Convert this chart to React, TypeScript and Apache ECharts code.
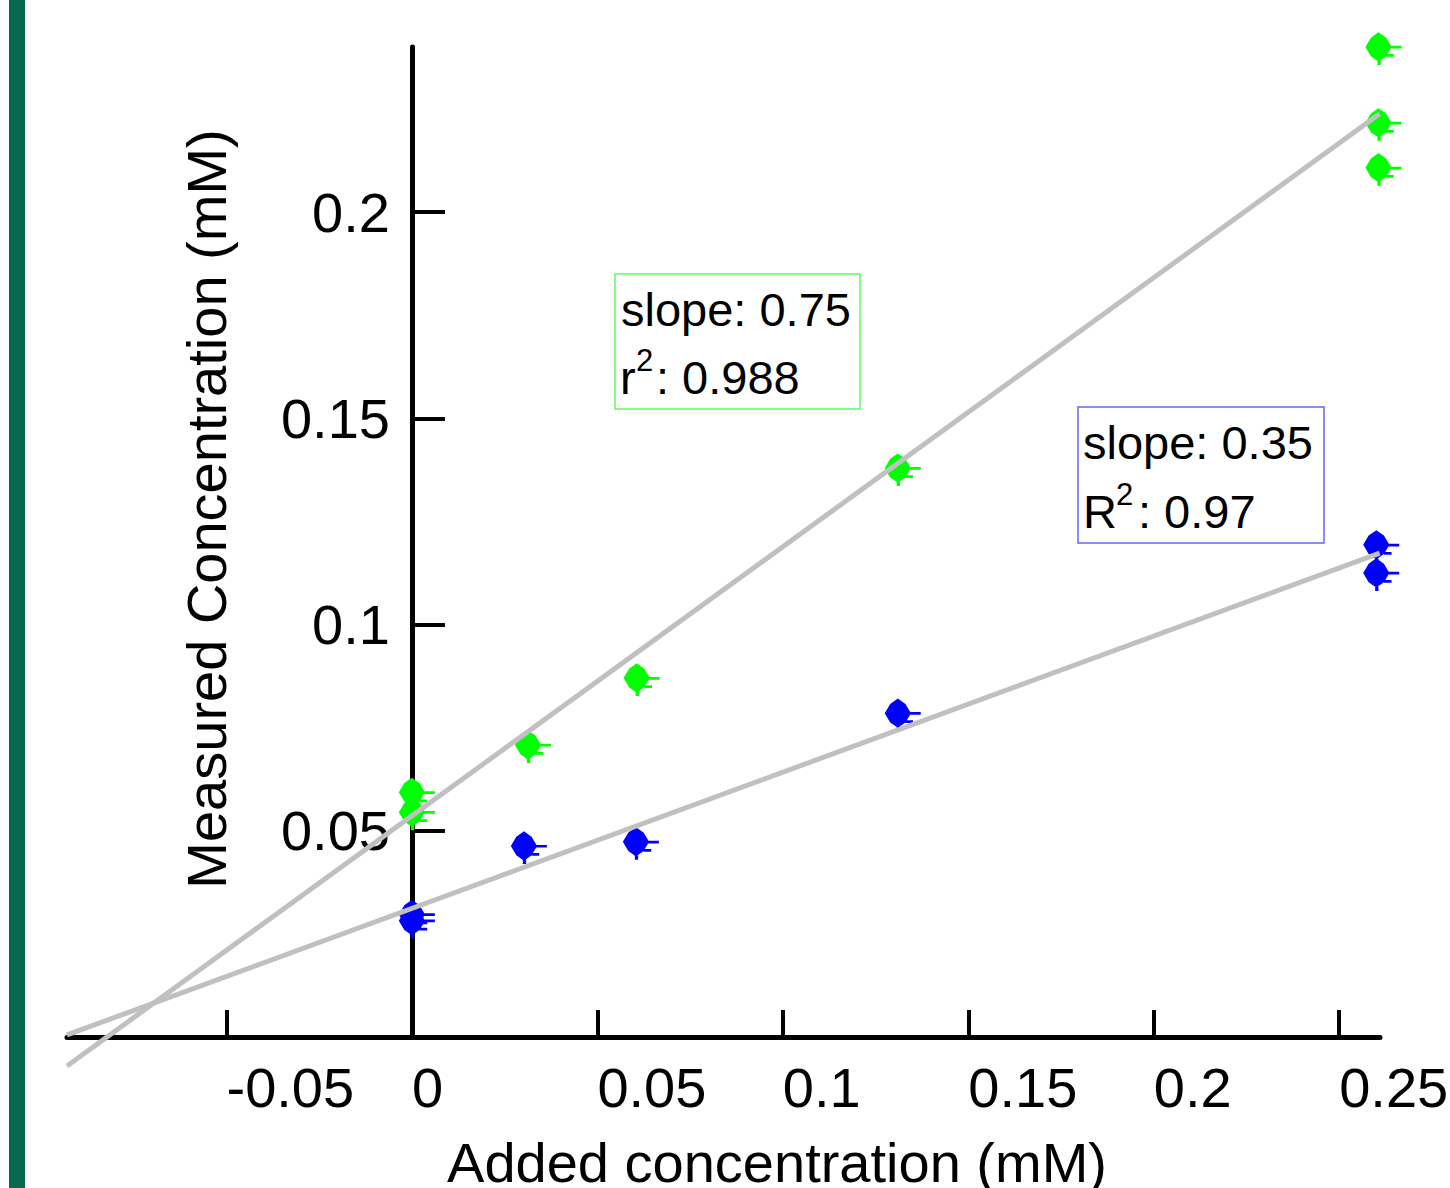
import React, { useEffect, useRef } from "react";
import * as echarts from "echarts";

// ---- data ----
const xTicks = [-0.05, 0, 0.05, 0.1, 0.15, 0.2, 0.25];
const yTicks = [0.05, 0.1, 0.15, 0.2];
const xRange = [-0.093, 0.261];
const yRange = [0, 0.24];

const greenX = [0, 0, 0.0313, 0.0606, 0.131, 0.2606, 0.2606, 0.2606];
const greenY = [0.0593, 0.0545, 0.0708, 0.087, 0.1379, 0.24, 0.2216, 0.2107];
const blueX = [0, 0, 0.0302, 0.0604, 0.131, 0.26, 0.26];
const blueY = [0.0297, 0.0282, 0.0463, 0.0473, 0.0785, 0.1193, 0.1125];

const greenFitX = [-0.093, 0.2609];
const greenFitY = [-0.00703, 0.2238];
const blueFitX = [-0.093, 0.2609];
const blueFitY = [0.0005, 0.1173];

const greenStats = ["slope: 0.75", "r", "2", ": 0.988"];
const blueStats = ["slope: 0.35", "R", "2", ": 0.97"];

const xTitle = "Added concentration (mM)";
const yTitle = "Measured Concentration (mM)";

// ---- styling ----
const FONT = "'Liberation Sans', Arial, Helvetica, sans-serif";
const GREEN = "#00ff00";
const BLUE = "#0000ff";
const FIT = "#c0c0c0";
const MARKER =
  "path://M12 0 L19 5 L24 13.5 L19 22 L12 27 L5 22 L0 13.5 L5 5 Z " +
  "M22 12.5 H33 V15 H22 Z M19 20 H26 V22.5 H19 Z M11 26 H14 V30 H11 Z";

const GRID = { left: 67, right: 70, top: 47, bottom: 151 };
const W = 1450;
const H = 1188;

const fmt = (v: number) => String(Number(Number(v).toFixed(4)));

function txt(text: string, x: number, y: number, size: number, extra: any = {}) {
  return {
    type: "text",
    x,
    y,
    z: 100,
    ...extra,
    style: {
      text,
      fontSize: size,
      fontFamily: FONT,
      fill: "#000",
      align: extra.align || "left",
      textAlign: extra.align || "left",
      verticalAlign: "middle",
      textVerticalAlign: "middle",
    },
  };
}

export default function App() {
  const ref = useRef<HTMLDivElement>(null);
  useEffect(() => {
    if (!ref.current) return;
    const chart = echarts.init(ref.current, null, { renderer: "svg" });
    const gridW = W - GRID.left - GRID.right;
    const yOffset = -((0 - xRange[0]) / (xRange[1] - xRange[0])) * gridW;
    const scatter = (name: string, xs: number[], ys: number[], color: string) => ({
      name,
      type: "scatter",
      data: xs.map((x, i) => [x, ys[i]]),
      symbol: MARKER,
      symbolSize: [36, 32.7],
      symbolOffset: [4.9, 1.6],
      itemStyle: { color, opacity: 1 },
      clip: false,
      z: 2,
    });
    const fit = (name: string, xs: number[], ys: number[]) => ({
      name,
      type: "line",
      data: xs.map((x, i) => [x, ys[i]]),
      symbol: "none",
      lineStyle: { color: FIT, width: 5 },
      clip: false,
      z: 3,
    });
    const option: any = {
      animation: false,
      backgroundColor: "#ffffff",
      grid: { ...GRID, containLabel: false, outerBoundsMode: "none" },
      xAxis: {
        type: "value",
        min: xRange[0],
        max: xRange[1],
        axisLine: { onZero: false, lineStyle: { color: "#000", width: 5 } },
        axisTick: {
          inside: true,
          length: 27,
          customValues: xTicks,
          lineStyle: { color: "#000", width: 4 },
        },
        axisLabel: {
          customValues: xTicks,
          align: "left",
          margin: 22,
          fontSize: 56,
          fontFamily: FONT,
          color: "#000",
          formatter: (v: number) => fmt(v),
        },
        splitLine: { show: false },
      },
      yAxis: {
        type: "value",
        min: yRange[0],
        max: yRange[1],
        offset: yOffset,
        axisLine: { onZero: false, lineStyle: { color: "#000", width: 5 } },
        axisTick: {
          inside: true,
          length: 33,
          customValues: yTicks,
          lineStyle: { color: "#000", width: 4 },
        },
        axisLabel: {
          customValues: yTicks,
          margin: 22,
          fontSize: 56,
          fontFamily: FONT,
          color: "#000",
          formatter: (v: number) => fmt(v),
        },
        splitLine: { show: false },
      },
      series: [
        scatter("green", greenX, greenY, GREEN),
        scatter("blue", blueX, blueY, BLUE),
        fit("green fit", greenFitX, greenFitY),
        fit("blue fit", blueFitX, blueFitY),
      ],
      graphic: [
        {
          type: "rect",
          shape: { x: 9, y: 0, width: 16, height: H },
          style: { fill: "#05694d" },
          z: 100,
        },
        {
          type: "rect",
          shape: { x: 615, y: 274, width: 245, height: 135 },
          style: { fill: "#ffffff", stroke: "#5cff5c", lineWidth: 1.5 },
          z: 90,
        },
        {
          type: "rect",
          shape: { x: 1078, y: 407, width: 246, height: 136 },
          style: { fill: "#ffffff", stroke: "#6666ff", lineWidth: 1.5 },
          z: 90,
        },
        txt(greenStats[0], 621, 309, 47),
        txt(greenStats[1], 620, 377, 47),
        txt(greenStats[2], 636, 360, 31),
        txt(greenStats[3], 656, 377, 47),
        txt(blueStats[0], 1083, 442, 47),
        txt(blueStats[1], 1083, 511, 47),
        txt(blueStats[2], 1116, 494, 31),
        txt(blueStats[3], 1138, 511, 47),
        txt(xTitle, 777, 1162, 56, { align: "center" }),
        txt(yTitle, 206, 509, 56, { align: "center", rotation: Math.PI / 2 }),
      ],
    };
    chart.setOption(option);
    return () => chart.dispose();
  }, []);
  return (
    <div
      ref={ref}
      style={{ position: "absolute", left: 0, top: 0, width: W, height: H }}
    />
  );
}
